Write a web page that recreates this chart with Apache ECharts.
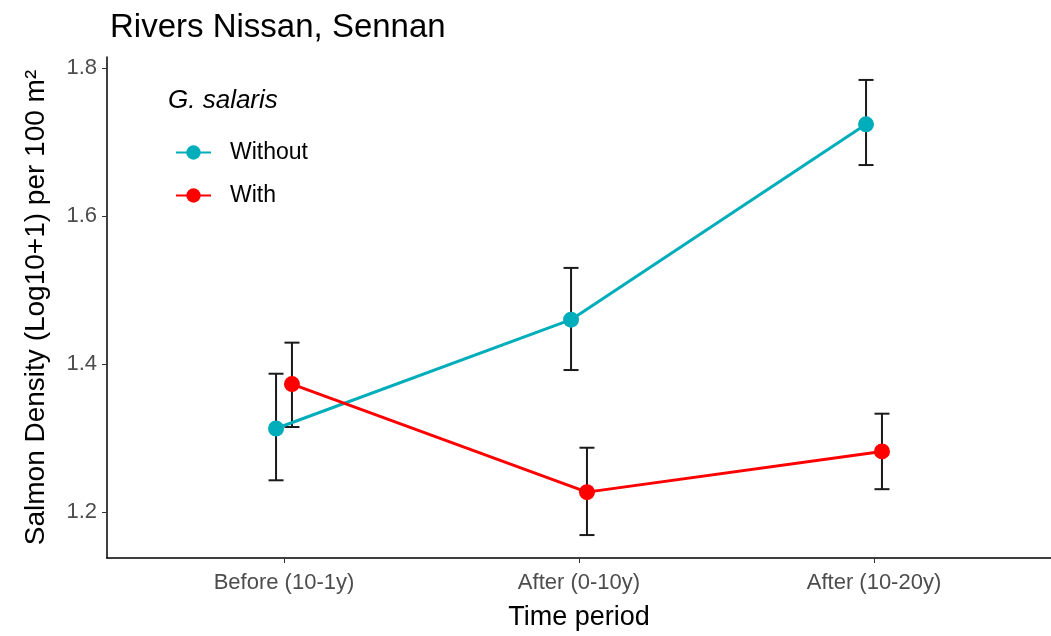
<!DOCTYPE html>
<html>
<head>
<meta charset="utf-8">
<script src="https://cdn.jsdelivr.net/npm/echarts@6/dist/echarts.min.js"></script>
<style>
  html, body { margin: 0; padding: 0; background: #fff; }
  #chart { width: 1051px; height: 636px; }
</style>
</head>
<body>
<div id="chart"></div>
<script>
// data
var periods = ['Before (10-1y)', 'After (0-10y)', 'After (10-20y)'];
var groups = ['Without', 'With'];
var withoutMean = [1.313, 1.460, 1.724];
var withoutLow  = [1.243, 1.392, 1.669];
var withoutHigh = [1.387, 1.530, 1.784];
var withMean = [1.373, 1.227, 1.282];
var withLow  = [1.315, 1.169, 1.231];
var withHigh = [1.429, 1.287, 1.333];
var yTicks = [1.2, 1.4, 1.6, 1.8];

var dodge = 0.027;
var colors = { Without: '#00ADBB', With: '#FF0000' };
var font = 'Liberation Sans, Arial, sans-serif';

function pts(mean, off) {
    return mean.map(function (v, i) { return [i + 1 + off, v]; });
}
function bars(lo, hi, off) {
    return lo.map(function (v, i) { return [i + 1 + off, v, hi[i]]; });
}

function renderErr(params, api) {
    var x = api.value(0);
    var lo = api.coord([x, api.value(1)]);
    var hi = api.coord([x, api.value(2)]);
    var half = 7.5;
    var style = { stroke: '#1a1a1a', lineWidth: 2 };
    return {
        type: 'group',
        children: [
            { type: 'line', shape: { x1: lo[0], y1: lo[1], x2: hi[0], y2: hi[1] }, style: style },
            { type: 'line', shape: { x1: lo[0] - half, y1: lo[1], x2: lo[0] + half, y2: lo[1] }, style: style },
            { type: 'line', shape: { x1: hi[0] - half, y1: hi[1], x2: hi[0] + half, y2: hi[1] }, style: style }
        ]
    };
}

var chart = echarts.init(document.getElementById('chart'));
var option = {
    animation: false,
    backgroundColor: '#fff',
    textStyle: { fontFamily: font },
    title: {
        text: 'Rivers Nissan, Sennan',
        left: 105, top: 6,
        textStyle: { fontSize: 33, fontWeight: 'normal', color: '#000' }
    },
    legend: {
        data: groups,
        orient: 'vertical',
        left: 170, top: 136,
        itemWidth: 35, itemHeight: 18, itemGap: 20,
        textStyle: { fontSize: 23, color: '#000', padding: [0, 0, 0, 14] },
        inactiveColor: '#ccc'
    },
    graphic: [{
        type: 'text', left: 168, top: 88,
        style: { text: 'G. salaris', fontSize: 26, fontStyle: 'italic', fill: '#000', fontFamily: font }
    }],
    grid: { left: 107, right: 0, top: 57, bottom: 76 },
    xAxis: {
        type: 'value', min: 0.4, max: 3.6,
        name: 'Time period', nameLocation: 'middle', nameGap: 46,
        nameTextStyle: { fontSize: 27, color: '#000' },
        splitLine: { show: false },
        axisLine: { lineStyle: { color: '#000', width: 1.5 } },
        axisTick: { show: true, customValues: [1, 2, 3], length: 5, lineStyle: { color: '#333' } },
        axisLabel: {
            customValues: [1, 2, 3], fontSize: 22, color: '#4d4d4d', margin: 14,
            formatter: function (v) { return periods[Math.round(v) - 1]; }
        }
    },
    yAxis: {
        type: 'value', min: 1.138, max: 1.815,
        name: 'Salmon Density (Log10+1) per 100 m²', nameLocation: 'middle', nameGap: 57,
        nameTextStyle: { fontSize: 28, color: '#000' },
        splitLine: { show: false },
        axisLine: { show: true, lineStyle: { color: '#000', width: 1.5 } },
        axisTick: { show: true, customValues: yTicks, length: 5, lineStyle: { color: '#333' } },
        axisLabel: {
            customValues: yTicks, fontSize: 22, color: '#4d4d4d', margin: 10,
            formatter: function (v) { return v.toFixed(1); }
        }
    },
    series: [
        {
            name: 'WithoutErr', type: 'custom', renderItem: renderErr, z: 1,
            data: bars(withoutLow, withoutHigh, -dodge)
        },
        {
            name: 'WithErr', type: 'custom', renderItem: renderErr, z: 1,
            data: bars(withLow, withHigh, dodge)
        },
        {
            name: 'Without', type: 'line', z: 3,
            data: pts(withoutMean, -dodge),
            symbol: 'circle', symbolSize: 16,
            itemStyle: { color: colors.Without },
            lineStyle: { color: colors.Without, width: 3 }
        },
        {
            name: 'With', type: 'line', z: 3,
            data: pts(withMean, dodge),
            symbol: 'circle', symbolSize: 16,
            itemStyle: { color: colors.With },
            lineStyle: { color: colors.With, width: 3 }
        }
    ]
};
chart.setOption(option);
window.addEventListener('resize', function () { chart.resize(); });
</script>
</body>
</html>
